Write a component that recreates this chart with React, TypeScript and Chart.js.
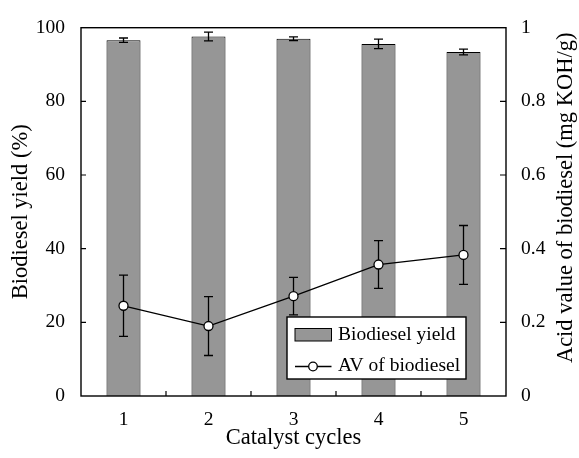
import React, { useEffect, useRef } from 'react';
import { Chart, registerables } from 'chart.js';

Chart.register(...registerables);

const FONT = "'Liberation Serif', 'Times New Roman', serif";

const cycles = ['1', '2', '3', '4', '5'];
const yieldValues = [96.6, 97.6, 97.0, 95.6, 93.4];
const yieldErrors = [0.6, 1.2, 0.5, 1.3, 0.8];
const avValues = [0.245, 0.19, 0.271, 0.357, 0.383];
const avErrors = [0.083, 0.08, 0.051, 0.065, 0.08];
const yieldTicks = [20, 40, 60, 80];
const avTicks = [0.2, 0.4, 0.6, 0.8];
const minorXTicks = [0.5, 1.5, 2.5, 3.5];
const legendLabels = ['Biodiesel yield', 'AV of biodiesel'];
const rightTitle = 'Acid value of biodiesel (mg KOH/g)';

const BAR_COLOR = '#969696';
const LINE_W = 1.3;

function drawErr(ctx: CanvasRenderingContext2D, x: number, yTop: number, yBot: number, cap: number) {
  ctx.beginPath();
  ctx.moveTo(x, yTop);
  ctx.lineTo(x, yBot);
  ctx.moveTo(x - cap, yTop);
  ctx.lineTo(x + cap, yTop);
  ctx.moveTo(x - cap, yBot);
  ctx.lineTo(x + cap, yBot);
  ctx.stroke();
}

const customPlugin = {
  id: 'customDecor',
  beforeDatasetDraw(chart: any, args: any) {
    if (args.index !== 1) return;
    const ctx = chart.ctx;
    const ys = chart.scales.y1;
    const meta = args.meta;
    ctx.save();
    ctx.strokeStyle = '#000';
    ctx.lineWidth = LINE_W;
    meta.data.forEach((el: any, i: number) => {
      drawErr(ctx, el.x, ys.getPixelForValue(avValues[i] + avErrors[i]), ys.getPixelForValue(avValues[i] - avErrors[i]), 4.5);
    });
    ctx.restore();
  },
  afterDatasetDraw(chart: any, args: any) {
    if (args.index !== 0) return;
    const ctx = chart.ctx;
    const ys = chart.scales.y;
    const meta = args.meta;
    ctx.save();
    ctx.strokeStyle = '#000';
    ctx.lineWidth = LINE_W;
    meta.data.forEach((el: any, i: number) => {
      drawErr(ctx, el.x, ys.getPixelForValue(yieldValues[i] + yieldErrors[i]), ys.getPixelForValue(yieldValues[i] - yieldErrors[i]), 4.5);
    });
    ctx.restore();
  },
  afterDatasetsDraw(chart: any) {
    const ctx = chart.ctx;
    const a = chart.chartArea;
    const { x, y, y1 } = chart.scales;
    ctx.save();
    ctx.strokeStyle = '#000';
    ctx.lineWidth = 1.4;
    ctx.strokeRect(a.left, a.top, a.right - a.left, a.bottom - a.top);
    ctx.lineWidth = 1.2;
    ctx.beginPath();
    yieldTicks.forEach((v) => {
      const py = y.getPixelForValue(v);
      ctx.moveTo(a.left, py);
      ctx.lineTo(a.left + 5, py);
    });
    avTicks.forEach((v) => {
      const py = y1.getPixelForValue(v);
      ctx.moveTo(a.right, py);
      ctx.lineTo(a.right - 6, py);
    });
    minorXTicks.forEach((v) => {
      const px = x.getPixelForValue(v);
      ctx.moveTo(px, a.bottom);
      ctx.lineTo(px, a.bottom - 5);
    });
    ctx.stroke();
    ctx.restore();
  },
  afterDraw(chart: any) {
    const ctx = chart.ctx;
    const a = chart.chartArea;
    ctx.save();
    // right axis title (reads bottom-to-top)
    ctx.fillStyle = '#000';
    ctx.font = `22.5px ${FONT}`;
    ctx.textAlign = 'center';
    ctx.textBaseline = 'middle';
    ctx.translate(566, (a.top + a.bottom) / 2 - 14);
    ctx.rotate(-Math.PI / 2);
    ctx.fillText(rightTitle, 0, 0);
    ctx.restore();

    // legend
    ctx.save();
    const lx = a.right - 219;
    const ly = a.bottom - 79;
    const lw = 179;
    const lh = 62;
    ctx.fillStyle = '#fff';
    ctx.fillRect(lx, ly, lw, lh);
    ctx.strokeStyle = '#000';
    ctx.lineWidth = 1.4;
    ctx.strokeRect(lx, ly, lw, lh);
    // bar swatch
    ctx.fillStyle = BAR_COLOR;
    ctx.fillRect(lx + 8, ly + 11.5, 36.5, 12.5);
    ctx.lineWidth = 1;
    ctx.strokeRect(lx + 8, ly + 11.5, 36.5, 12.5);
    // line swatch
    ctx.lineWidth = LINE_W;
    ctx.beginPath();
    ctx.moveTo(lx + 8, ly + 49.5);
    ctx.lineTo(lx + 44.5, ly + 49.5);
    ctx.stroke();
    ctx.beginPath();
    ctx.arc(lx + 26, ly + 49.5, 4.3, 0, Math.PI * 2);
    ctx.fillStyle = '#fff';
    ctx.fill();
    ctx.stroke();
    ctx.fillStyle = '#000';
    ctx.font = `19.5px ${FONT}`;
    ctx.textAlign = 'left';
    ctx.textBaseline = 'middle';
    ctx.fillText(legendLabels[0], lx + 51, ly + 18);
    ctx.fillText(legendLabels[1], lx + 51, ly + 49);
    ctx.restore();
  },
};

export default function App() {
  const canvasRef = useRef<HTMLCanvasElement | null>(null);

  useEffect(() => {
    if (!canvasRef.current) return;
    const tickFont = { family: FONT, size: 19.5 };
    const titleFont = { family: FONT, size: 22.5 };
    const chart = new Chart(canvasRef.current, {
      type: 'bar',
      data: {
        labels: cycles,
        datasets: [
          {
            type: 'bar',
            label: legendLabels[0],
            data: yieldValues,
            backgroundColor: BAR_COLOR,
            borderColor: '#000',
            borderWidth: 1,
            barPercentage: 0.4,
            categoryPercentage: 1,
            yAxisID: 'y',
            order: 2,
          },
          {
            type: 'line',
            label: legendLabels[1],
            data: avValues,
            borderColor: '#000',
            borderWidth: LINE_W,
            pointRadius: 4.5,
            pointBackgroundColor: '#fff',
            pointBorderColor: '#000',
            pointBorderWidth: LINE_W,
            tension: 0,
            yAxisID: 'y1',
            order: 1,
          },
        ],
      } as any,
      options: {
        responsive: false,
        animation: false,
        devicePixelRatio: 1,
        layout: { padding: { top: 18, left: 0, right: 0, bottom: 0 } },
        plugins: {
          legend: { display: false },
          tooltip: { enabled: false },
        },
        scales: {
          x: {
            type: 'category',
            offset: true,
            grid: { display: false, drawTicks: false },
            border: { display: false },
            ticks: { color: '#000', font: tickFont, padding: 12, maxRotation: 0 },
            title: {
              display: true,
              text: 'Catalyst cycles',
              color: '#000',
              font: titleFont,
              padding: { top: 0, bottom: 6.5 },
            },
            afterFit: (s: any) => {
              s.height = 62;
            },
          },
          y: {
            position: 'left',
            min: 0,
            max: 100,
            grid: { display: false, drawTicks: false },
            border: { display: false },
            ticks: { stepSize: 20, color: '#000', font: tickFont, padding: 16 },
            title: {
              display: true,
              text: 'Biodiesel yield (%)',
              color: '#000',
              font: titleFont,
              padding: { top: 8, bottom: 0 },
            },
            afterFit: (s: any) => {
              s.width = 81;
            },
          },
          y1: {
            position: 'right',
            min: 0,
            max: 1,
            grid: { display: false, drawTicks: false },
            border: { display: false },
            ticks: {
              stepSize: 0.2,
              color: '#000',
              font: tickFont,
              padding: 15,
              callback: (v: any) => String(Math.round(Number(v) * 10) / 10),
            },
            title: { display: false },
            afterFit: (s: any) => {
              s.width = 73;
            },
          },
        },
      } as any,
      plugins: [customPlugin],
    });
    return () => chart.destroy();
  }, []);

  return (
    <div style={{ position: 'absolute', left: 0, top: 0, width: 579, height: 458, background: '#fff' }}>
      <canvas ref={canvasRef} width={579} height={458} style={{ display: 'block' }} />
    </div>
  );
}
